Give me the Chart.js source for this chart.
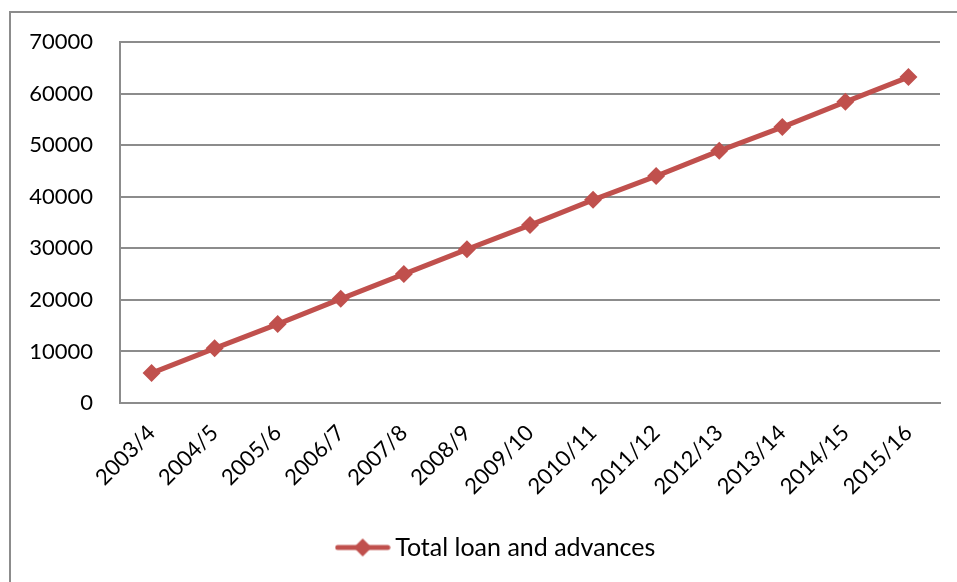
<!DOCTYPE html>
<html>
<head>
<meta charset="utf-8">
<script src="https://cdn.jsdelivr.net/npm/chart.js@4/dist/chart.umd.min.js"></script>
<style>
  html, body { margin: 0; padding: 0; background: #fff; }
  #wrap { width: 957px; height: 582px; }
</style>
</head>
<body>
<div id="wrap"><canvas id="chart-loans" width="957" height="582"></canvas></div>
<script>
var years = ["2003/4", "2004/5", "2005/6", "2006/7", "2007/8", "2008/9", "2009/10",
             "2010/11", "2011/12", "2012/13", "2013/14", "2014/15", "2015/16"];
var loans = [5800, 10600, 15300, 20200, 25000, 29800, 34500, 39400, 44000, 48900, 53500, 58400, 63200];
var yTicks = [0, 10000, 20000, 30000, 40000, 50000, 60000, 70000];

var red = "#C0504D";
var grey = "#8c8c8c";
var font = "Lato, 'Open Sans', sans-serif";

// little line + diamond used as the legend symbol
function legend_symbol() {
    var c = document.createElement('canvas');
    c.width = 56; c.height = 20;
    var g = c.getContext('2d');
    g.strokeStyle = red;
    g.lineWidth = 5;
    g.lineCap = 'round';
    g.beginPath(); g.moveTo(3, 10); g.lineTo(53, 10); g.stroke();
    g.fillStyle = red;
    g.beginPath(); g.moveTo(28, 1); g.lineTo(37, 10); g.lineTo(28, 19); g.lineTo(19, 10); g.closePath(); g.fill();
    return c;
}

// outer frame (left and top edges), plus nudge the legend to sit under the plot
var framePlugin = {
    id: 'frame',
    afterLayout: function(chart) {
        chart.legend.left += 23;
        chart.legend.right += 23;
    },
    beforeDraw: function(chart) {
        var ctx = chart.ctx;
        ctx.save();
        ctx.strokeStyle = grey;
        ctx.lineWidth = 2;
        ctx.beginPath();
        ctx.moveTo(10, 582);
        ctx.lineTo(10, 12);
        ctx.lineTo(957, 12);
        ctx.stroke();
        ctx.restore();
    }
};

var ctx = document.getElementById("chart-loans");
var myChart = new Chart(ctx, {
    type: 'line',
    data: {
        labels: years,
        datasets: [{
            label: 'Total loan and advances',
            data: loans,
            borderColor: red,
            backgroundColor: red,
            borderWidth: 5,
            fill: false,
            tension: 0,
            pointStyle: 'rectRot',
            pointRadius: 9,
            pointHoverRadius: 9,
            pointBorderWidth: 0,
            pointBackgroundColor: red
        }]
    },
    plugins: [framePlugin],
    options: {
        responsive: false,
        animation: false,
        layout: { padding: { top: 42, right: 17, left: 12, bottom: 12 } },
        plugins: {
            tooltip: { enabled: false },
            legend: {
                position: 'bottom',
                labels: {
                    usePointStyle: true,
                    pointStyle: legend_symbol(),
                    pointStyleWidth: 40,
                    color: '#000',
                    padding: 10,
                    font: { family: font, size: 25 }
                }
            }
        },
        scales: {
            x: {
                offset: true,
                grid: { display: false, drawTicks: false },
                border: { display: true, color: grey, width: 2 },
                ticks: {
                    color: '#000',
                    maxRotation: 45,
                    minRotation: 45,
                    padding: 17,
                    font: { family: font, size: 22 }
                },
                afterFit: function(scale) { scale.height = 122; }
            },
            y: {
                min: 0,
                max: 70000,
                afterBuildTicks: function(scale) {
                    scale.ticks = yTicks.map(function(v) { return { value: v }; });
                },
                grid: { color: grey, lineWidth: 2, drawTicks: false },
                border: { display: true, color: grey, width: 2 },
                ticks: {
                    color: '#000',
                    padding: 27,
                    font: { family: font, size: 22 },
                    callback: function(v) { return String(v); }
                },
                afterFit: function(scale) { scale.width = 108; }
            }
        }
    }
});
</script>
</body>
</html>
